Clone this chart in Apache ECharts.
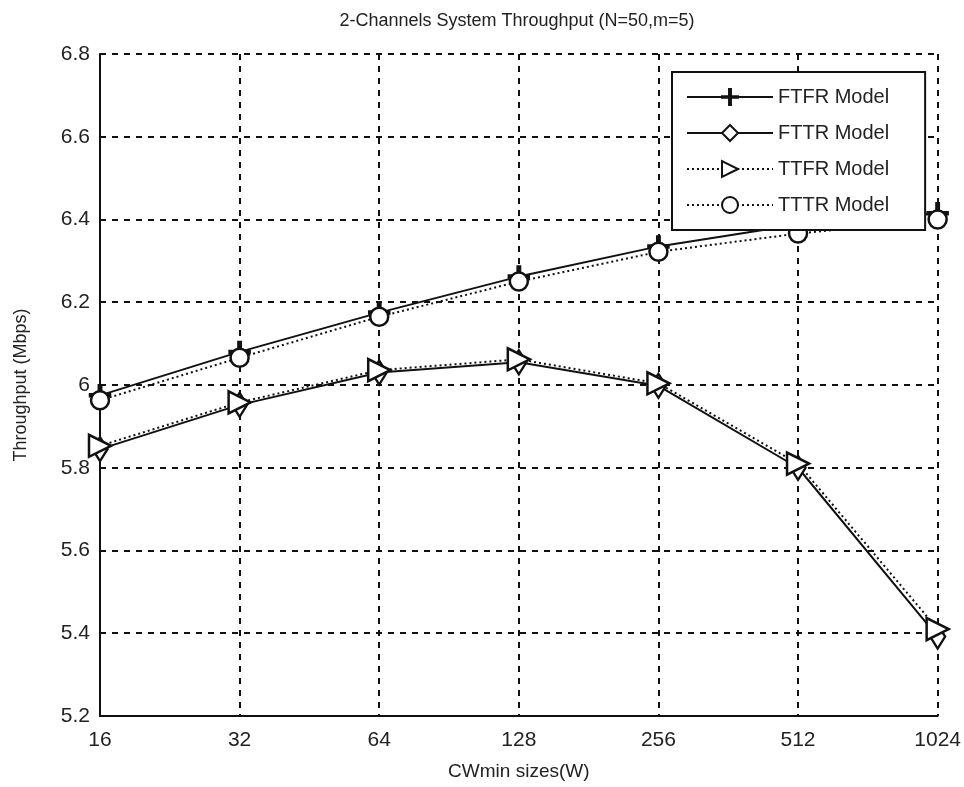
<!DOCTYPE html>
<html>
<head>
<meta charset="utf-8">
<script src="https://cdn.jsdelivr.net/npm/echarts@6/dist/echarts.min.js"></script>
<style>
html,body{margin:0;padding:0;background:#fff;}
#chart{width:964px;height:787px;}
</style>
</head>
<body>
<div id="chart"></div>
<script>
var categories = ['16', '32', '64', '128', '256', '512', '1024'];
var ftfr = [5.975, 6.080, 6.175, 6.262, 6.335, 6.388, 6.415];
var fttr = [5.845, 5.952, 6.030, 6.055, 5.998, 5.800, 5.392];
var ttfr = [5.853, 5.958, 6.036, 6.062, 6.004, 5.810, 5.410];
var tttr = [5.963, 6.066, 6.165, 6.250, 6.322, 6.366, 6.400];
var seriesNames = ['FTFR Model', 'FTTR Model', 'TTFR Model', 'TTTR Model'];
var yTicks = {min: 5.2, max: 6.8, interval: 0.2};

var plusPath = 'path://M4.4,0 H5.6 V4.5 H10 V5.5 H5.6 V10 H4.4 V5.5 H0 V4.5 H4.4 Z';
var font = 'Liberation Sans, Arial, sans-serif';

var chart = echarts.init(document.getElementById('chart'));
function mk(name, data, lineType, symbol, size, rotate, filled) {
  return {
    name: name, type: 'line', data: data,
    symbol: symbol, symbolSize: size, symbolRotate: rotate || 0,
    showAllSymbol: true,
    lineStyle: {color: '#111', width: 2, type: lineType},
    itemStyle: {color: filled ? '#111' : '#fff', borderColor: '#111', borderWidth: 2.5},
    emphasis: {disabled: true},
    z: 3
  };
}
chart.setOption({
  animation: false,
  backgroundColor: '#fff',
  title: {
    text: '2-Channels System Throughput (N=50,m=5)',
    left: 512, top: 7, textAlign: 'center',
    textStyle: {fontFamily: font, fontWeight: 'normal', fontSize: 18, color: '#222'}
  },
  grid: {left: 100, right: 24, top: 54, bottom: 71},
  legend: {
    orient: 'vertical', left: 672, top: 72,
    padding: [15, 36, 15, 14],
    itemGap: 16, itemWidth: 86, itemHeight: 20,
    borderColor: '#111', borderWidth: 2, backgroundColor: '#fff',
    textStyle: {fontFamily: font, fontSize: 20, color: '#222'},
    data: seriesNames
  },
  xAxis: {
    type: 'category', data: categories, boundaryGap: false,
    name: 'CWmin sizes(W)', nameLocation: 'middle', nameGap: 46,
    nameTextStyle: {fontFamily: font, fontSize: 19, color: '#222'},
    axisLine: {lineStyle: {color: '#111', width: 2}},
    axisTick: {show: false},
    axisLabel: {fontFamily: font, fontSize: 21, color: '#222', margin: 14},
    splitLine: {show: true, lineStyle: {color: '#111', type: [6, 6], width: 2}}
  },
  yAxis: {
    type: 'value', min: yTicks.min, max: yTicks.max, interval: yTicks.interval,
    name: 'Throughput (Mbps)', nameLocation: 'middle', nameGap: 70,
    nameTextStyle: {fontFamily: font, fontSize: 18, color: '#222'},
    axisLine: {show: true, lineStyle: {color: '#111', width: 2}},
    axisTick: {show: false},
    axisLabel: {fontFamily: font, fontSize: 21, color: '#222', margin: 10,
      formatter: function (v) { return String(Math.round(v * 10) / 10); }},
    splitLine: {show: true, lineStyle: {color: '#111', type: [6, 6], width: 2}}
  },
  series: [
    mk(seriesNames[0], ftfr, 'solid', plusPath, 20, 0, true),
    mk(seriesNames[1], fttr, 'solid', 'diamond', [15, 24], 0, false),
    mk(seriesNames[2], ttfr, [2, 3], 'triangle', 22, -90, false),
    mk(seriesNames[3], tttr, [2, 3], 'circle', 18, 0, false)
  ]
});
</script>
</body>
</html>
